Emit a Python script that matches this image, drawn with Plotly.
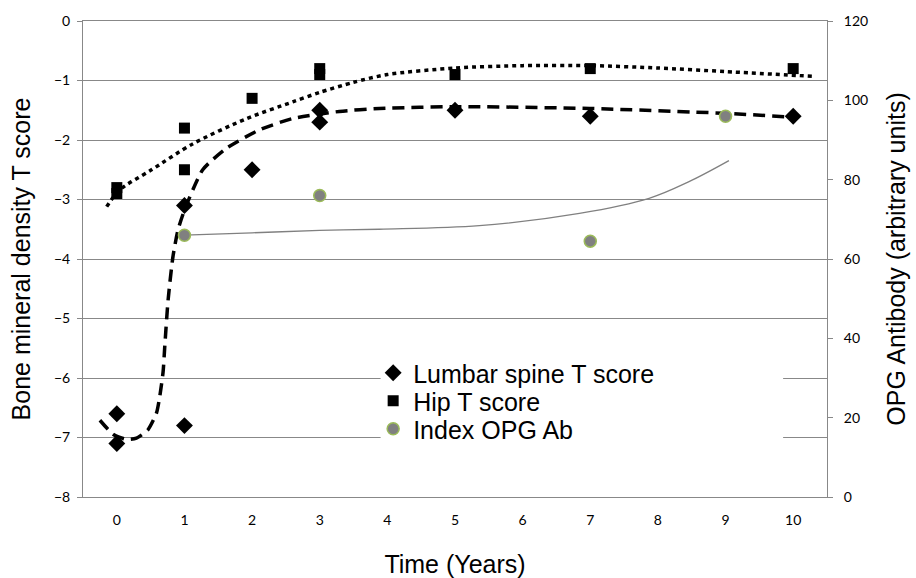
import plotly.graph_objects as go

# ---- data ----
lumbar_x = [0, 0, 1, 1, 2, 3, 3, 5, 7, 10]
lumbar_y = [-6.6, -7.1, -3.1, -6.8, -2.5, -1.5, -1.7, -1.5, -1.6, -1.6]

hip_x = [0, 0, 1, 1, 2, 3, 3, 5, 7, 10]
hip_y = [-2.8, -2.9, -1.8, -2.5, -1.3, -0.8, -0.9, -0.9, -0.8, -0.8]

opg_x = [1, 3, 7, 9]
opg_y = [66, 76, 64.5, 96]

# trend curves as drawn in the reference (sampled values)
lumbar_trend_x = [-0.25, -0.05, 0.14, 0.29, 0.46, 0.586, 0.635, 0.684, 0.709, 0.758, 0.83, 0.905,
                  1.0, 1.27, 1.62, 2.11, 2.6, 3.29, 3.88, 5.02, 6.99, 8.96, 10.05]
lumbar_trend_y = [-6.71, -6.95, -7.03, -7.01, -6.87, -6.59, -6.31, -5.9, -5.47, -4.69, -3.96, -3.51,
                  -3.18, -2.5, -2.14, -1.83, -1.64, -1.52, -1.47, -1.44, -1.47, -1.55, -1.62]

hip_trend_x = [-0.15, 0.04, 0.5, 1.13, 1.92, 2.6, 3.0, 3.5, 4.0, 5.0, 6.0, 7.0, 8.0, 9.0, 10.29]
hip_trend_y = [-3.12, -2.84, -2.51, -2.06, -1.64, -1.36, -1.2, -1.03, -0.9, -0.79, -0.75, -0.75,
               -0.79, -0.85, -0.93]

opg_trend_x = [1.0, 2.0, 3.0, 3.88, 5.36, 6.84, 7.87, 8.46, 9.05]
opg_trend_y = [66.0, 66.6, 67.2, 67.5, 68.4, 71.5, 75.3, 79.5, 84.8]

x_ticks = list(range(0, 11))
x_minor = [i + 0.5 for i in range(0, 10)]
left_ticks = list(range(-8, 1))
right_ticks = list(range(0, 121, 20))

GRID = "#888888"
TXT = "Liberation Sans, Arial, sans-serif"
TICKF = "Lato, Calibri, sans-serif"

fig = go.Figure()

fig.add_trace(go.Scatter(x=lumbar_trend_x, y=lumbar_trend_y, mode="lines",
                         line=dict(color="black", width=3.5, dash="12px,7px", shape="spline", smoothing=0.6),
                         showlegend=False, hoverinfo="skip"))
fig.add_trace(go.Scatter(x=hip_trend_x, y=hip_trend_y, mode="lines",
                         line=dict(color="black", width=3.5, dash="4px,4px", shape="spline", smoothing=0.8),
                         showlegend=False, hoverinfo="skip"))
fig.add_trace(go.Scatter(x=opg_trend_x, y=opg_trend_y, mode="lines", yaxis="y2",
                         line=dict(color="#808080", width=1.3, shape="spline"),
                         showlegend=False, hoverinfo="skip"))

fig.add_trace(go.Scatter(x=lumbar_x, y=lumbar_y, mode="markers", name="Lumbar spine T score",
                         legend="legend",
                         marker=dict(symbol="diamond", size=13, color="black")))
fig.add_trace(go.Scatter(x=hip_x, y=hip_y, mode="markers", name="Hip T score",
                         legend="legend2",
                         marker=dict(symbol="square", size=11, color="black")))
fig.add_trace(go.Scatter(x=opg_x, y=opg_y, mode="markers", name="Index OPG Ab", yaxis="y2",
                         legend="legend3",
                         marker=dict(symbol="circle", size=12, color="#808080",
                                     line=dict(color="#9BBB59", width=1.5))))

# white panel behind the legend (as in the reference)
fig.add_shape(type="rect", xref="paper", yref="paper", x0=0.40, x1=0.941, y0=0.11, y1=0.295,
              fillcolor="white", line=dict(width=0), layer="above")

leg_common = dict(x=0.39, xanchor="left", yanchor="middle", bgcolor="rgba(255,255,255,0)",
                  font=dict(family=TXT, size=25), borderwidth=0, itemsizing="trace")

fig.update_layout(
    width=916, height=578,
    margin=dict(l=83, r=89, t=21, b=81, autoexpand=False),
    paper_bgcolor="white", plot_bgcolor="white",
    font=dict(family=TXT, color="black"),
    xaxis=dict(range=[-0.5, 10.5], tickvals=x_ticks, ticktext=[str(v) for v in x_ticks],
               showgrid=False, zeroline=False, showline=True, mirror=True, automargin=False,
               linecolor=GRID, linewidth=1, ticks="outside", ticklen=10,
               tickcolor="rgba(0,0,0,0)", tickfont=dict(family=TICKF, size=14),
               title=dict(text="Time (Years)", font=dict(family=TXT, size=25), standoff=28)),
    xaxis2=dict(range=[-0.5, 10.5], overlaying="x", side="top", anchor="y",
                tickvals=x_minor, ticks="inside", ticklen=5, tickcolor=GRID,
                showticklabels=False, showgrid=False, zeroline=False, showline=False),
    yaxis=dict(range=[-8, 0], tickvals=left_ticks, showgrid=True, gridcolor=GRID, gridwidth=1,
               zeroline=False, showline=True, linecolor=GRID, ticks="outside", ticklen=5,
               automargin=False,
               tickcolor=GRID, tickfont=dict(family=TICKF, size=14), ticklabelstandoff=4,
               title=dict(text="Bone mineral density T score", font=dict(family=TXT, size=25), standoff=16)),
    yaxis2=dict(range=[0, 120], tickvals=right_ticks, overlaying="y", side="right",
                showgrid=False, zeroline=False, showline=True, linecolor=GRID, ticks="outside",
                automargin=False,
                ticklen=5, tickcolor=GRID, tickfont=dict(family=TICKF, size=14), ticklabelstandoff=8,
                title=dict(text="OPG Antibody (arbitrary units)", font=dict(family=TXT, size=25), standoff=20)),
    legend=dict(y=(497 - 373) / 476, **leg_common),
    legend2=dict(y=(497 - 401) / 476, **leg_common),
    legend3=dict(y=(497 - 429) / 476, **leg_common),
)

fig.write_html("out.html")
